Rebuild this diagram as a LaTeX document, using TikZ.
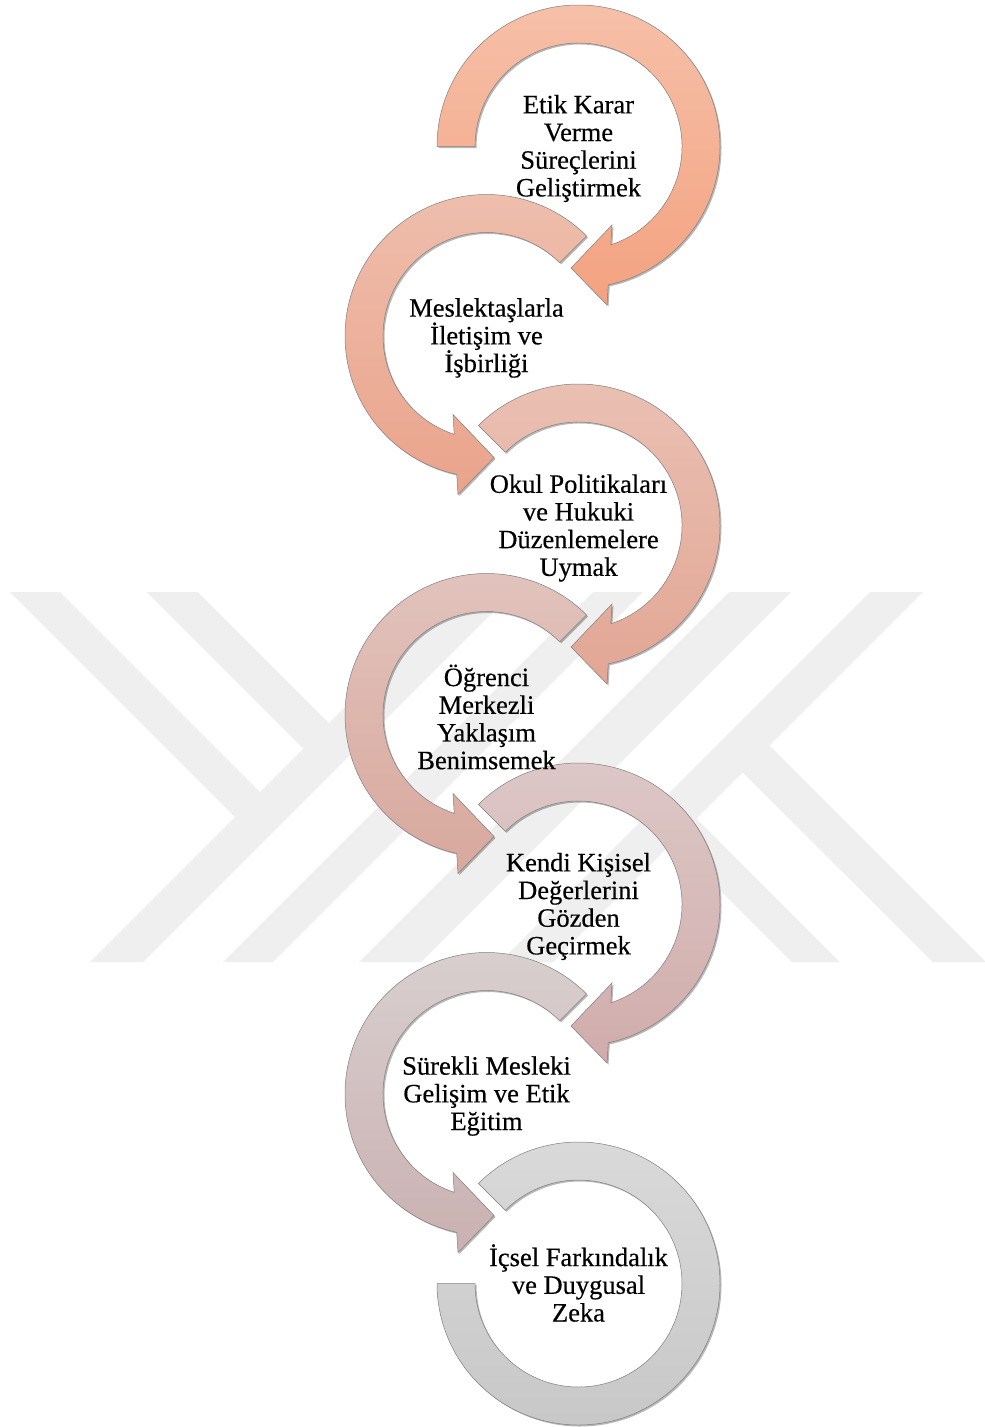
\documentclass[tikz,border=0pt]{standalone}
\usepackage{fontspec}
\setmainfont{Liberation Serif}
\newfontfamily\lblfont[FakeBold=0.4]{Liberation Serif}
\usetikzlibrary{shadows}
\definecolor{wm}{RGB}{239,239,239}
\definecolor{aat}{RGB}{246,192,168}\definecolor{aab}{RGB}{243,162,128}
\definecolor{abt}{RGB}{239,191,174}\definecolor{abb}{RGB}{234,163,139}
\definecolor{act}{RGB}{234,193,180}\definecolor{acb}{RGB}{226,166,148}
\definecolor{adt}{RGB}{226,196,190}\definecolor{adb}{RGB}{216,168,157}
\definecolor{aet}{RGB}{221,201,200}\definecolor{aeb}{RGB}{208,172,171}
\definecolor{aft}{RGB}{217,208,208}\definecolor{afb}{RGB}{202,176,177}
\definecolor{agt}{RGB}{218,218,218}\definecolor{agb}{RGB}{199,199,199}
% right-hand circular arrow (start angle #1), left-hand mirrored (start angle #1)
\newcommand\RArr[1]{(#1:141.5) arc[start angle=#1, end angle=-77.86, radius=141.5] -- (28.5,-158.5) -- (-7.5,-121.5) -- (33.5,-78.5) -- (-71.83:103.5) arc[start angle=-71.83, end angle=#1, radius=103.5] -- cycle}
\newcommand\LArr[1]{(#1:141.5) arc[start angle=#1, end angle=257.86, radius=141.5] -- (-28.5,-158.5) -- (7.5,-121.5) -- (-33.5,-78.5) -- (251.83:103.5) arc[start angle=251.83, end angle=#1, radius=103.5] -- cycle}
\newcommand\LastRing{(135:141.5) arc[start angle=135, end angle=-180, radius=141.5] -- (180:103.5) arc[start angle=-180, end angle=135, radius=103.5] -- cycle}
\begin{document}
\begin{tikzpicture}[x=1pt,y=1pt,
  ring/.style={draw=black!50, line width=0.5pt,
    drop shadow={shadow xshift=1.5pt, shadow yshift=-1.5pt, opacity=0.28, fill=black}},
  band/.style={fill=wm},
  lbl/.style={align=center, font=\lblfont\fontsize{26.5}{27.7}\selectfont, inner sep=0pt}]
\useasboundingbox (0,0) rectangle (985,-1427);
\fill[white] (0,0) rectangle (985,-1427);
% watermark
\path[band] (10,-592) -- (60,-592) -- (260,-792) -- (235,-817) -- cycle;
\path[band] (147,-592) -- (198,-592) -- (329,-723) -- (303.5,-748.5) -- cycle;
\path[band] (90,-962) -- (143,-962) -- (513,-592) -- (460,-592) -- cycle;
\path[band] (223,-962) -- (273,-962) -- (643,-592) -- (593,-592) -- cycle;
\path[band] (870,-592) -- (923,-592) -- (553,-962) -- (500,-962) -- cycle;
\path[band] (729,-592) -- (791,-592) -- (421,-962) -- (359,-962) -- cycle;
\path[band] (767,-743) -- (986,-962) -- (933,-962) -- (740,-770) -- cycle;
\path[band] (696.5,-818.5) -- (840,-962) -- (792,-962) -- (672.5,-842.5) -- cycle;
% circular arrows
\path[ring, top color=aat, bottom color=aab, shift={(578.5,-146.5)}] \RArr{180};
\path[ring, top color=abt, bottom color=abb, shift={(486.5,-336)}] \LArr{45};
\path[ring, top color=act, bottom color=acb, shift={(578.5,-525.5)}] \RArr{135};
\path[ring, top color=adt, bottom color=adb, shift={(486.5,-715)}] \LArr{45};
\path[ring, top color=aet, bottom color=aeb, shift={(578.5,-904.5)}] \RArr{135};
\path[ring, top color=aft, bottom color=afb, shift={(486.5,-1094)}] \LArr{45};
\path[ring, top color=agt, bottom color=agb, shift={(578.5,-1283.5)}] \LastRing;
% labels
\node[lbl] (t1) at (578.5,-148.5) {Etik Karar\\Verme\\Süreçlerini\\Geliştirmek};
\node[lbl] (t2) at (486.5,-338) {Meslektaşlarla\\İletişim ve\\İşbirliği};
\node[lbl] (t3) at (578.5,-528) {Okul Politikaları\\ve Hukuki\\Düzenlemelere\\Uymak};
\node[lbl] (t4) at (486.5,-717) {Öğrenci\\Merkezli\\Yaklaşım\\Benimsemek};
\node[lbl] (t5) at (578.5,-906.5) {Kendi Kişisel\\Değerlerini\\Gözden\\Geçirmek};
\node[lbl] (t6) at (486.5,-1096) {Sürekli Mesleki\\Gelişim ve Etik\\Eğitim};
\node[lbl] (t7) at (578.5,-1283) {İçsel Farkındalık\\ve Duygusal\\Zeka};
\end{tikzpicture}
\end{document}
